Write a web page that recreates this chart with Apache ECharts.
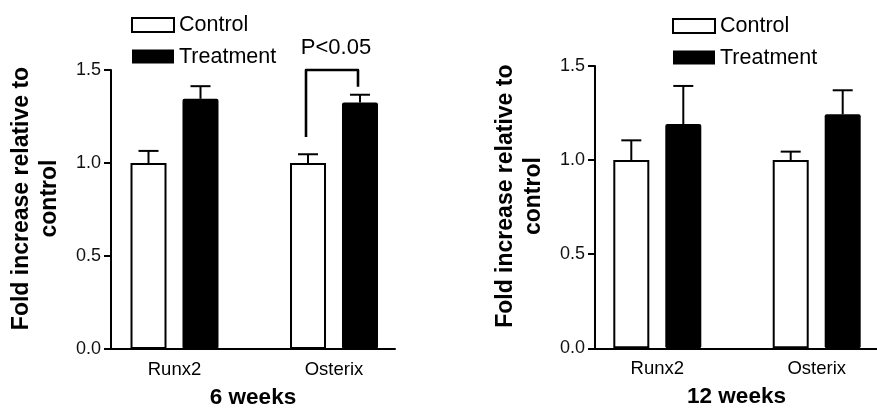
<!DOCTYPE html>
<html>
<head>
<meta charset="utf-8">
<script src="https://cdn.jsdelivr.net/npm/echarts@6/dist/echarts.min.js"></script>
<style>
html,body{margin:0;padding:0;background:#fff;}
#chart{width:877px;height:408px;}
</style>
</head>
<body>
<div id="chart"></div>
<script>
// ---- data ----
const categories = ['Runx2', 'Osterix'];
const seriesNames = ['Control', 'Treatment'];
const yTicks = [0, 0.5, 1.0, 1.5];
// 6 weeks
const control6 = [1.0, 1.0];
const control6Err = [0.065, 0.047];
const treat6 = [1.345, 1.325];
const treat6Err = [0.068, 0.042];
// significance bracket (6 weeks, Osterix): [category, left leg bottom, right leg bottom, top]
const bracket6 = [[1, 1.14, 1.41, 1.5]];
const bracketLabel = 'P<0.05';
// 12 weeks
const control12 = [1.0, 1.0];
const control12Err = [0.105, 0.045];
const treat12 = [1.192, 1.243];
const treat12Err = [0.202, 0.128];

const yName = 'Fold increase relative to\ncontrol';
const xNames = ['6 weeks', '12 weeks'];

// ---- style ----
const FONT = 'Liberation Sans, Arial, Helvetica, sans-serif';
const BAR_W = 36;
const OFF = 26; // half of (bar width + gap)

function errData(vals, errs) { return vals.map((v, i) => [i, v, errs[i]]); }

function errRender(offset) {
  return function (params, api) {
    const c = api.value(0);
    const x = api.coord([c, 0])[0] + offset;
    const y0 = api.coord([c, api.value(1)])[1];
    const y1 = api.coord([c, api.value(1) + api.value(2)])[1];
    return {
      type: 'group',
      children: [
        { type: 'line', shape: { x1: x, y1: y0, x2: x, y2: y1 }, style: { stroke: '#000', lineWidth: 2 } },
        { type: 'line', shape: { x1: x - 10, y1: y1, x2: x + 10, y2: y1 }, style: { stroke: '#000', lineWidth: 2 } }
      ]
    };
  };
}

function bracketRender(params, api) {
  const c = api.value(0);
  const xc = api.coord([c, 0])[0];
  const xl = xc - OFF - 2, xr = xc + OFF - 2;
  const yl = api.coord([c, api.value(1)])[1];
  const yr = api.coord([c, api.value(2)])[1];
  const yt = api.coord([c, api.value(3)])[1];
  return {
    type: 'group',
    children: [
      { type: 'polyline', shape: { points: [[xl, yl], [xl, yt], [xr, yt], [xr, yr]] },
        style: { stroke: '#000', lineWidth: 2.6, fill: null, lineJoin: 'round' } },
      { type: 'text', x: (xl + xr) / 2 + 4, y: yt - 22,
        style: { text: bracketLabel, fontSize: 22, fontFamily: FONT, fill: '#000', align: 'center', verticalAlign: 'middle' } }
    ]
  };
}

function lineXAxis(gridIndex, name) {
  return {
    type: 'value', gridIndex: gridIndex, min: 0, max: 1,
    axisLine: { show: true, lineStyle: { color: '#000', width: 2 } },
    axisTick: { show: false }, axisLabel: { show: false }, splitLine: { show: false },
    name: name, nameLocation: 'middle', nameGap: 37,
    nameTextStyle: { fontSize: 22.5, fontWeight: 'bold', fontFamily: FONT, color: '#000' }
  };
}
function catXAxis(gridIndex) {
  return {
    type: 'category', gridIndex: gridIndex, data: categories,
    axisLine: { show: false }, axisTick: { show: false },
    axisLabel: { fontSize: 18.5, fontFamily: FONT, color: '#000', margin: 11 }
  };
}
function visYAxis(gridIndex) {
  return {
    type: 'value', gridIndex: gridIndex, min: yTicks[0], max: yTicks[yTicks.length - 1], interval: 0.5,
    axisLine: { show: true, lineStyle: { color: '#000', width: 2 } },
    axisTick: { show: true, length: 7, lineStyle: { color: '#000', width: 2 } },
    axisLabel: { fontSize: 18, fontFamily: FONT, color: '#111', margin: 10, formatter: v => v.toFixed(1) },
    splitLine: { show: false },
    name: yName, nameLocation: 'middle', nameGap: 47,
    nameTextStyle: { fontSize: 23, fontWeight: 'bold', fontFamily: FONT, color: '#000', lineHeight: 28, padding: [0, 0, 0, 22] }
  };
}
function hidYAxis(gridIndex) {
  return { type: 'value', gridIndex: gridIndex, min: yTicks[0], max: yTicks[yTicks.length - 1], show: false };
}
function legendAt(left, top) {
  return {
    left: left, top: top, orient: 'vertical', padding: 0,
    itemWidth: 42, itemHeight: 14, itemGap: 9.6, icon: 'rect',
    textStyle: { fontSize: 21.5, lineHeight: 22, fontFamily: FONT, color: '#000' },
    data: seriesNames
  };
}
function barPair(xi, yi, ctl, trt) {
  return [
    { name: seriesNames[0], type: 'bar', xAxisIndex: xi, yAxisIndex: yi, data: ctl, barWidth: BAR_W, barGap: '44.4%',
      itemStyle: { color: '#fff', borderColor: '#000', borderWidth: 2 } },
    { name: seriesNames[1], type: 'bar', xAxisIndex: xi, yAxisIndex: yi, data: trt, barWidth: BAR_W, barGap: '44.4%',
      itemStyle: { color: '#000', borderRadius: 2 } }
  ];
}

const option = {
  animation: false,
  backgroundColor: '#fff',
  textStyle: { fontFamily: FONT },
  legend: [legendAt(131, 14), legendAt(672, 15)],
  grid: [
    { left: 111, top: 70, width: 284, height: 279, outerBoundsMode: 'none', containLabel: false },
    { left: 94.75, top: 70, width: 319, height: 279, outerBoundsMode: 'none', containLabel: false },
    { left: 595, top: 66, width: 283, height: 282.3, outerBoundsMode: 'none', containLabel: false },
    { left: 577.6, top: 66, width: 318.8, height: 282.3, outerBoundsMode: 'none', containLabel: false }
  ],
  xAxis: [lineXAxis(0, xNames[0]), catXAxis(1), lineXAxis(2, xNames[1]), catXAxis(3)],
  yAxis: [visYAxis(0), hidYAxis(1), visYAxis(2), hidYAxis(3)],
  series: [
    ...barPair(1, 1, control6, treat6),
    { type: 'custom', xAxisIndex: 1, yAxisIndex: 1, renderItem: errRender(-OFF), data: errData(control6, control6Err), clip: false, z: 5 },
    { type: 'custom', xAxisIndex: 1, yAxisIndex: 1, renderItem: errRender(OFF), data: errData(treat6, treat6Err), clip: false, z: 5 },
    { type: 'custom', xAxisIndex: 1, yAxisIndex: 1, renderItem: bracketRender, data: bracket6, clip: false, z: 5 },
    ...barPair(3, 3, control12, treat12),
    { type: 'custom', xAxisIndex: 3, yAxisIndex: 3, renderItem: errRender(-OFF), data: errData(control12, control12Err), clip: false, z: 5 },
    { type: 'custom', xAxisIndex: 3, yAxisIndex: 3, renderItem: errRender(OFF), data: errData(treat12, treat12Err), clip: false, z: 5 }
  ]
};

const chart = echarts.init(document.getElementById('chart'), null, { renderer: 'canvas' });
chart.setOption(option);
</script>
</body>
</html>
